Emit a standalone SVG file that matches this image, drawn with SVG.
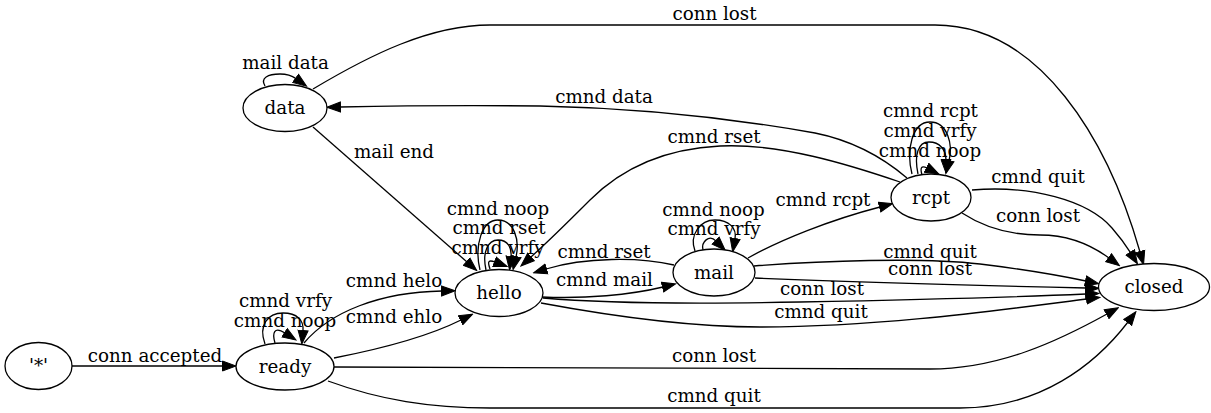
<svg xmlns="http://www.w3.org/2000/svg" width="1211" height="413" viewBox="0 0 1211 413">
<style>
.n ellipse{fill:#fff;stroke:#000;stroke-width:1.3}
text{font-family:"DejaVu Serif","Liberation Serif",serif;font-size:18.3px;fill:#000;text-anchor:middle}
.e path{fill:none;stroke:#000;stroke-width:1.3;marker-end:url(#ah)}
</style>
<defs>
<marker id="ah" markerUnits="userSpaceOnUse" markerWidth="15" markerHeight="12" viewBox="0 0 15 12" refX="1" refY="6" orient="auto">
<path d="M0.5,1 L14,6 L0.5,11 Z" fill="#000" stroke="#000" stroke-width="1"/>
</marker>
</defs>
<rect width="1211" height="413" fill="#fff"/>
<g id="edges" class="e">
<path d="M72,366 L223,366"/>
<path d="M265,344 C258,325 268,313 283,313 C297,313 304,320 303,331"/>
<path d="M275,343 C272,333 274,326 285,333"/>
<path d="M304,343 C330,312 380,292 442,291"/>
<path d="M334,358 C375,350 425,338 461,320"/>
<path d="M334,367 L930,369 C1000,369 1060,340 1107,314"/>
<path d="M328,381 C380,400 430,408 490,408 L960,408 C1040,408 1095,365 1128,322"/>
<path d="M480,270 C474,245 482,220 498,220 C514,220 520,240 516,257"/>
<path d="M486,270 C482,252 488,240 498,240 C508,240 512,248 511,257"/>
<path d="M490,269 C488,263 487,259 495,262"/>
<path d="M313,127 L467,262"/>
<path d="M265,86 C260,78 268,74 280,74 C287,74 291,75 296,78.6"/>
<path d="M313,89 C370,55 430,25 490,25 L935,25 C1040,25 1108,140 1140,252"/>
<path d="M912,174 C906,150 912,122 930,122 C948,122 953,145 949,161"/>
<path d="M918,174 C914,155 918,142 929,142 C940,142 946,150 946,160"/>
<path d="M922,175 C920,168 921,165 927,168"/>
<path d="M900,182 C850,165 780,143 720,146 C660,149 620,170 590,200 C570,220 550,240 530.6,257.3"/>
<path d="M907,178 C880,155 850,140 815,133 C730,118 640,108 540,106 C450,105 390,106 340,107"/>
<path d="M748,258 C780,240 830,220 880,207"/>
<path d="M695,251 C689,235 700,220 715,220 C729,220 737,228 735,239"/>
<path d="M703,250 C701,242 709,234 716,241"/>
<path d="M674,265 C640,257 585,257 546,269"/>
<path d="M542,297 C585,299 630,295 663,287"/>
<path d="M754,266 C820,261 920,257 980,264 C1030,270 1062,276 1086,281"/>
<path d="M755,278 C850,282 1000,286 1086,288"/>
<path d="M543,298 C600,303 700,304 800,302 C950,299 1040,296 1086,294"/>
<path d="M541,303 C600,314 680,327 760,327 C880,327 1000,310 1087,299"/>
<path d="M972,190 C1030,185 1088,200 1112,228 C1119,236 1125,244 1130.5,252.7"/>
<path d="M962,213 C985,228 1010,235 1040,235 C1072,235 1094,247 1109,258"/>
</g>
<g id="edge-labels">
<text x="155" y="362">conn accepted</text>
<text x="285.5" y="307">cmnd vrfy</text>
<text x="285" y="327">cmnd noop</text>
<text x="394" y="287">cmnd helo</text>
<text x="394" y="323">cmnd ehlo</text>
<text x="498" y="215">cmnd noop</text>
<text x="499" y="234">cmnd rset</text>
<text x="498" y="254">cmnd vrfy</text>
<text x="394" y="158">mail end</text>
<text x="285.5" y="69">mail data</text>
<text x="714.5" y="20">conn lost</text>
<text x="604" y="103">cmnd data</text>
<text x="714" y="142.5">cmnd rset</text>
<text x="930.5" y="117">cmnd rcpt</text>
<text x="930" y="137">cmnd vrfy</text>
<text x="930" y="157">cmnd noop</text>
<text x="823" y="205.5">cmnd rcpt</text>
<text x="1038" y="183">cmnd quit</text>
<text x="1038" y="222">conn lost</text>
<text x="713.5" y="215.5">cmnd noop</text>
<text x="714" y="235">cmnd vrfy</text>
<text x="604" y="258">cmnd rset</text>
<text x="604.5" y="286">cmnd mail</text>
<text x="930" y="257.5">cmnd quit</text>
<text x="930" y="275">conn lost</text>
<text x="822" y="295">conn lost</text>
<text x="821" y="318">cmnd quit</text>
<text x="714" y="362">conn lost</text>
<text x="714" y="402">cmnd quit</text>
</g>
<g id="node-star" class="n"><ellipse cx="38.5" cy="366" rx="33.5" ry="23.5"/><text x="38.5" y="372">'*'</text></g>
<g id="node-ready" class="n"><ellipse cx="285" cy="366.5" rx="49" ry="23.5"/><text x="285" y="372.5">ready</text></g>
<g id="node-hello" class="n"><ellipse cx="499" cy="293" rx="44" ry="23.5"/><text x="499" y="299">hello</text></g>
<g id="node-mail" class="n"><ellipse cx="714" cy="272.5" rx="41" ry="23.5"/><text x="714" y="278.5">mail</text></g>
<g id="node-rcpt" class="n"><ellipse cx="931" cy="197.5" rx="40" ry="23.5"/><text x="931" y="203.5">rcpt</text></g>
<g id="node-closed" class="n"><ellipse cx="1154" cy="287" rx="55.5" ry="23.5"/><text x="1154" y="293">closed</text></g>
<g id="node-data" class="n"><ellipse cx="285" cy="108" rx="42" ry="23.5"/><text x="285" y="114">data</text></g>
</svg>
